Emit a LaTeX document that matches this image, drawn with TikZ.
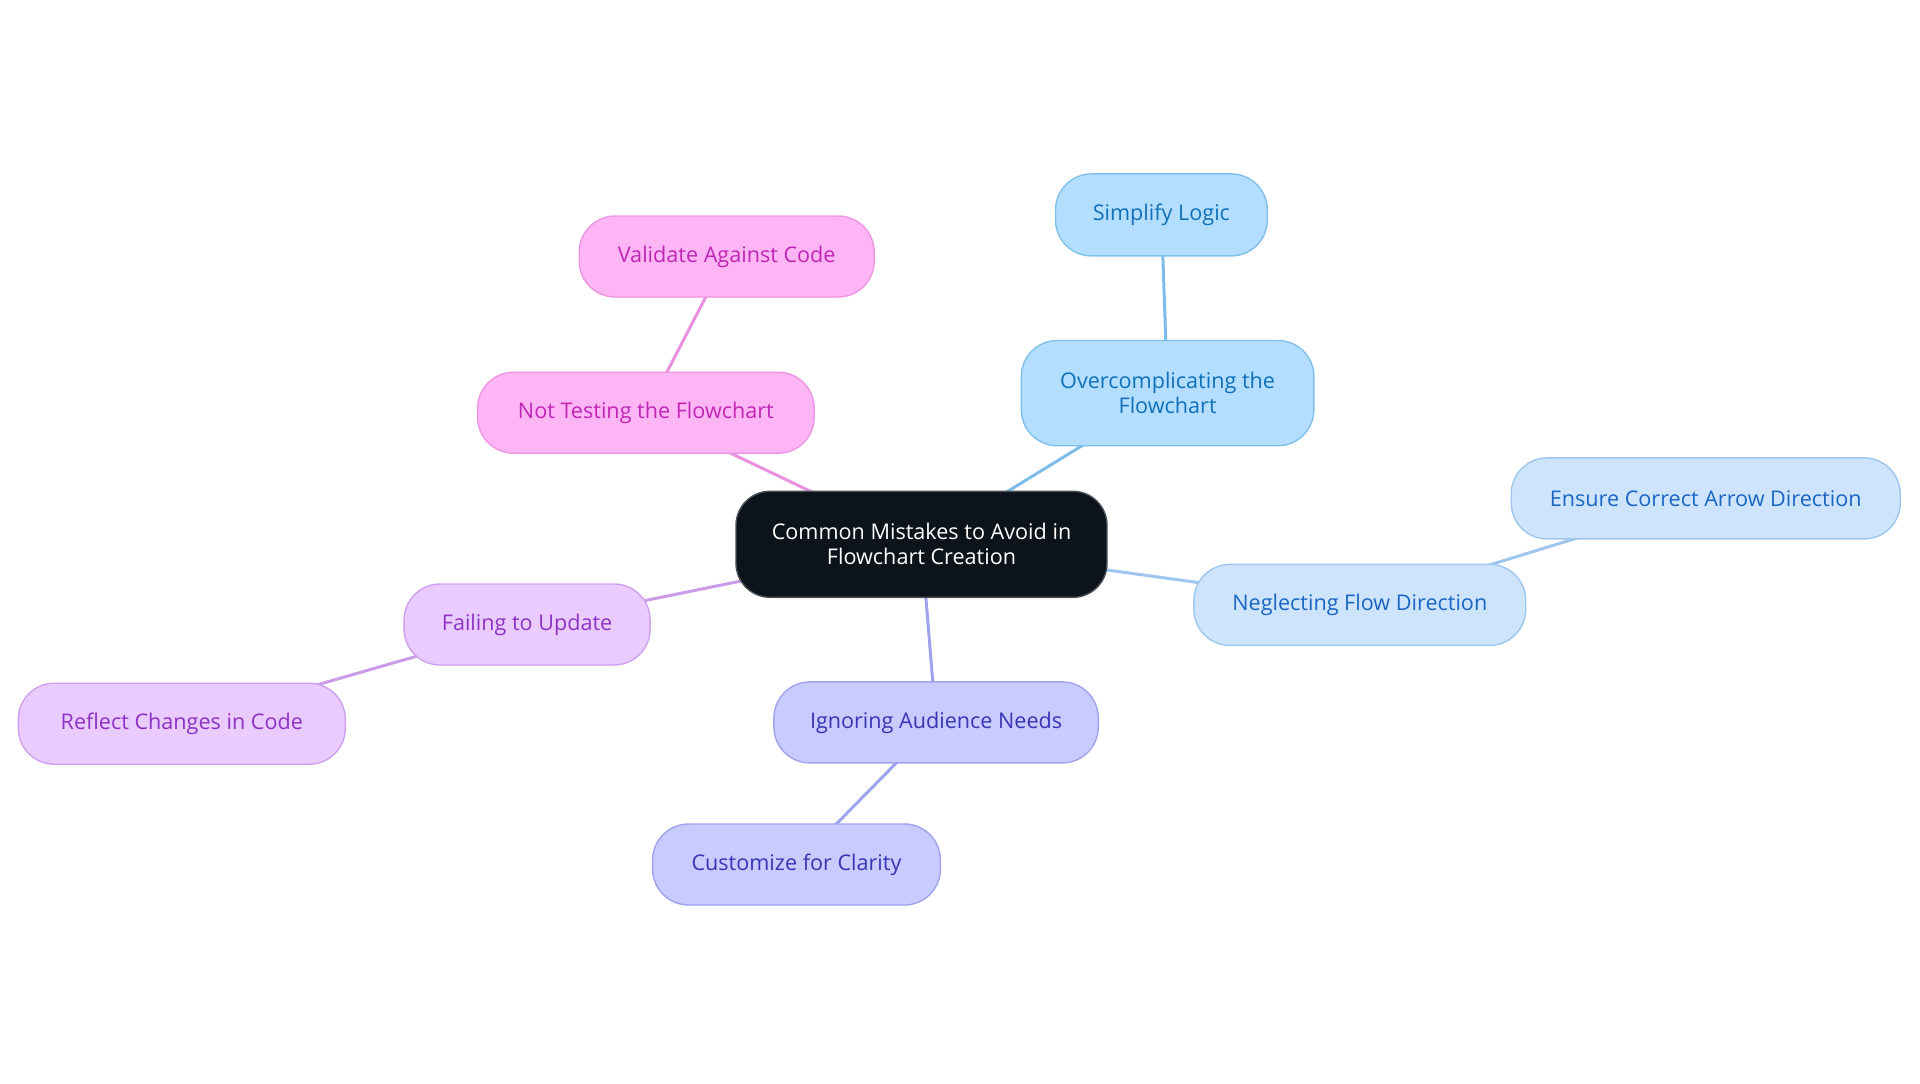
\documentclass[tikz,border=0pt]{standalone}
\usepackage{fontspec}
\setmainfont{Open Sans}
\usetikzlibrary{backgrounds}
\definecolor{cdark}{HTML}{0C131A}
\definecolor{cdarkb}{HTML}{4A5058}
\definecolor{bfill}{HTML}{B3DEFF}\definecolor{bdraw}{HTML}{80C0EC}\definecolor{btext}{HTML}{1170BA}\definecolor{bedge}{HTML}{7EBDE9}
\definecolor{lfill}{HTML}{CEE4FD}\definecolor{ldraw}{HTML}{9EC6EE}\definecolor{ltext}{HTML}{1A66C2}\definecolor{ledge}{HTML}{9EC5EE}
\definecolor{pfill}{HTML}{FDB5F5}\definecolor{pdraw}{HTML}{EE95E4}\definecolor{ptext}{HTML}{C026B4}\definecolor{pedge}{HTML}{EA90E1}
\definecolor{vfill}{HTML}{EACBFD}\definecolor{vdraw}{HTML}{CFA0EF}\definecolor{vtext}{HTML}{8D32C6}\definecolor{vedge}{HTML}{C99BE8}
\definecolor{afill}{HTML}{C8CBFE}\definecolor{adraw}{HTML}{9FA3EE}\definecolor{atext}{HTML}{3A34B5}\definecolor{aedge}{HTML}{9FA2EC}
\tikzset{
  box/.style={rectangle, rounded corners=18pt, line width=0.7pt, inner sep=0pt, align=center,
    font=\fontsize{10.8}{12.5}\selectfont, minimum height=40.5pt},
  central/.style={box, fill=cdark, draw=cdarkb, text=white, rounded corners=17pt, minimum height=53pt},
  bnode/.style={box, fill=bfill, draw=bdraw, text=btext},
  lnode/.style={box, fill=lfill, draw=ldraw, text=ltext},
  pnode/.style={box, fill=pfill, draw=pdraw, text=ptext},
  vnode/.style={box, fill=vfill, draw=vdraw, text=vtext},
  anode/.style={box, fill=afill, draw=adraw, text=atext},
  link/.style={line width=1.5pt}
}
\begin{document}
\begin{tikzpicture}[x=0.5pt,y=-0.5pt]
\useasboundingbox (0,0) rectangle (1920,1083);
\node[central, minimum width=185.5pt] (c) at (921.5,544.3) {Common Mistakes to Avoid in\\Flowchart Creation};
\node[bnode, minimum width=146.3pt, minimum height=52.6pt] (over) at (1167.6,393.1) {Overcomplicating the\\Flowchart};
\node[bnode, minimum width=105.9pt, minimum height=41pt] (simp) at (1161.4,214.9) {Simplify Logic};
\node[pnode, minimum width=168.3pt] (nott) at (645.9,412.7) {Not Testing the Flowchart};
\node[pnode, minimum width=147.5pt] (vali) at (726.7,256.5) {Validate Against Code};
\node[lnode, minimum width=194.5pt] (ensu) at (1705.7,498.4) {Ensure Correct Arrow Direction};
\node[lnode, minimum width=165.9pt] (negl) at (1359.8,604.9) {Neglecting Flow Direction};
\node[vnode, minimum width=123pt] (fail) at (527.1,624.5) {Failing to Update};
\node[vnode, minimum width=163.5pt] (refl) at (181.8,723.7) {Reflect Changes in Code};
\node[anode, minimum width=162.2pt] (igno) at (936.1,722.4) {Ignoring Audience Needs};
\node[anode, minimum width=143.9pt] (cust) at (796.5,864.5) {Customize for Clarity};
\begin{scope}[on background layer]
\draw[link, pedge] (c.center) -- (nott.center);
\draw[link, pedge] (nott.center) -- (vali.center);
\draw[link, bedge] (c.center) -- (over.center);
\draw[link, bedge] (over.center) -- (simp.center);
\draw[link, ledge] (c.center) -- (negl.center);
\draw[link, ledge] (negl.center) -- (ensu.center);
\draw[link, vedge] (c.center) -- (fail.center);
\draw[link, vedge] (fail.center) -- (refl.center);
\draw[link, aedge] (c.center) -- (igno.center);
\draw[link, aedge] (igno.center) -- (cust.center);
\end{scope}
\end{tikzpicture}
\end{document}
